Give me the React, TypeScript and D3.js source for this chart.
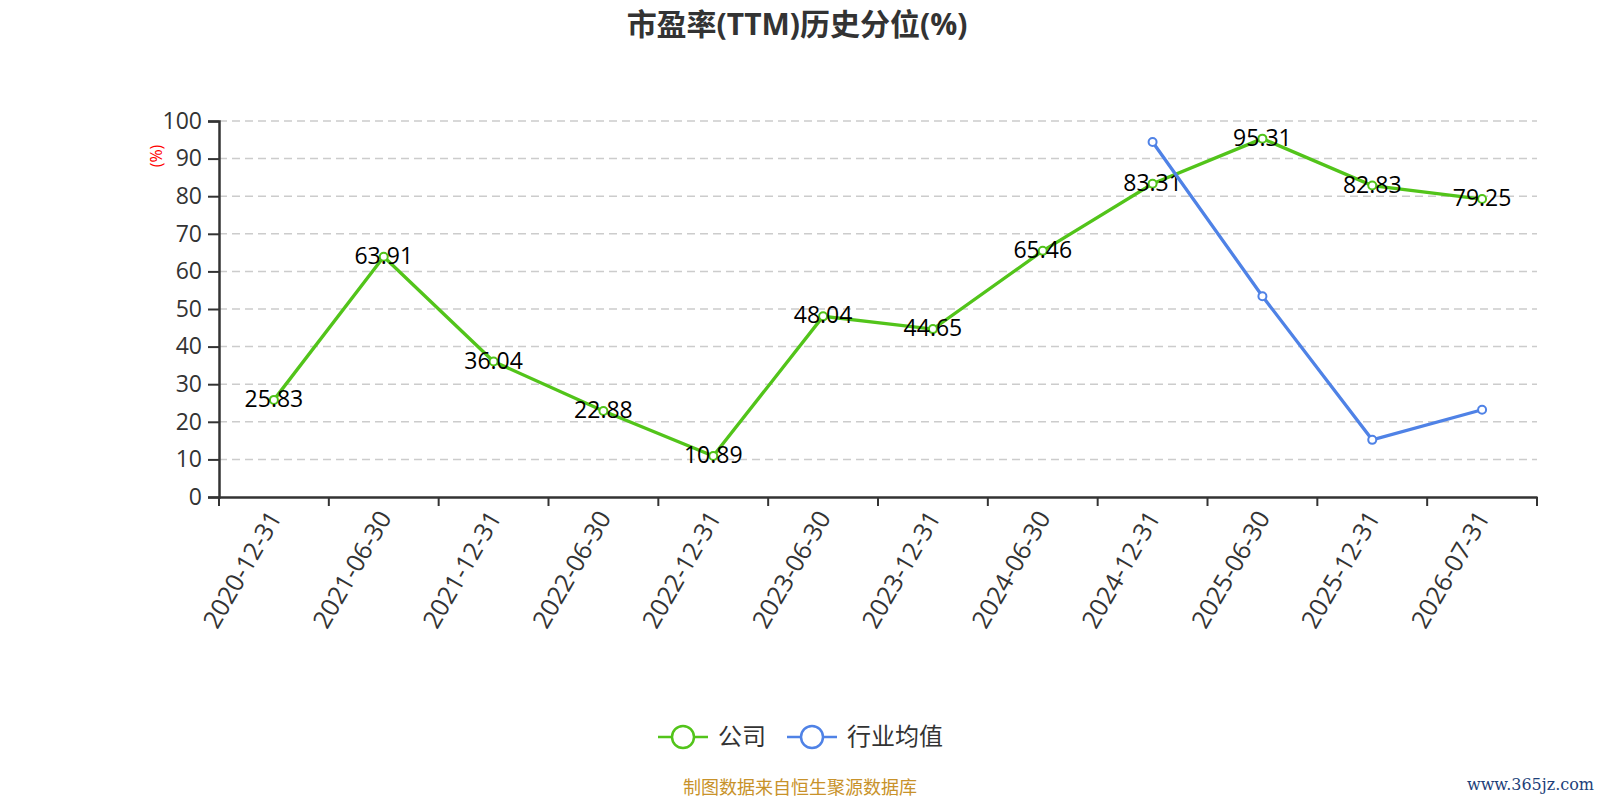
import React, { useEffect, useRef } from 'react';
import * as d3 from 'd3';

const categories = [
    '2020-12-31', '2021-06-30', '2021-12-31', '2022-06-30', '2022-12-31', '2023-06-30',
    '2023-12-31', '2024-06-30', '2024-12-31', '2025-06-30', '2025-12-31', '2026-07-31'
];
const companyValues: (number | null)[] = [25.83, 63.91, 36.04, 22.88, 10.89, 48.04, 44.65, 65.46, 83.31, 95.31, 82.83, 79.25];
const industryValues: (number | null)[] = [null, null, null, null, null, null, null, null, 94.4, 53.4, 15.2, 23.2];
const yTicks = [0, 10, 20, 30, 40, 50, 60, 70, 80, 90, 100];

const seriesNames = ['公司', '行业均值'];
const colors = ['#52c41a', '#4f82e6'];

const width = 1600;
const height = 800;
const margin = { top: 121, right: 63, bottom: 303, left: 219 };
const font = '"Open Sans", "Noto Sans CJK SC", sans-serif';

const App: React.FC = () => {
    const svgRef = useRef<SVGSVGElement>(null);

    useEffect(() => {
        if (!svgRef.current) return;
        const svg = d3.select(svgRef.current);
        svg.selectAll('*').remove();

        const x = d3.scaleBand<string>()
            .domain(categories)
            .range([margin.left, width - margin.right]);

        const y = d3.scaleLinear()
            .domain([0, 100])
            .range([height - margin.bottom, margin.top]);

        // title
        svg.append('text')
            .attr('x', 797)
            .attr('y', 35)
            .attr('text-anchor', 'middle')
            .attr('font-size', '30px')
            .attr('font-weight', 'bold')
            .attr('font-family', font)
            .attr('fill', '#333')
            .text('市盈率(TTM)历史分位(%)');

        // grid lines
        svg.append('g')
            .selectAll('line')
            .data(yTicks.filter(d => d > 0))
            .join('line')
            .attr('x1', margin.left)
            .attr('x2', width - margin.right)
            .attr('y1', d => y(d))
            .attr('y2', d => y(d))
            .attr('stroke', '#ccc')
            .attr('stroke-width', 1.5)
            .attr('stroke-dasharray', '8,5');

        // y axis
        const yAxis = svg.append('g')
            .attr('transform', `translate(${margin.left},0)`)
            .call(d3.axisLeft(y).tickValues(yTicks).tickSize(11).tickPadding(6));
        yAxis.select('.domain').attr('stroke', '#333').attr('stroke-width', 2.5);
        yAxis.selectAll('.tick line').attr('stroke', '#333').attr('stroke-width', 2);
        yAxis.selectAll('.tick text')
            .attr('fill', '#333')
            .attr('font-size', '23px')
            .attr('font-family', font);

        svg.append('text')
            .attr('transform', `translate(162,156) rotate(-90)`)
            .attr('text-anchor', 'middle')
            .attr('font-size', '16px')
            .attr('font-family', font)
            .attr('fill', 'red')
            .text('(%)');

        // x axis
        const xAxis = svg.append('g')
            .attr('transform', `translate(0,${height - margin.bottom})`)
            .call(d3.axisBottom(x).tickSize(0).tickFormat(() => ''));
        xAxis.select('.domain').attr('stroke', '#333').attr('stroke-width', 2.5);
        xAxis.selectAll('.tick').remove();

        const boundaries = [...categories.map(c => x(c) as number), width - margin.right];
        svg.append('g')
            .selectAll('line')
            .data(boundaries)
            .join('line')
            .attr('x1', d => d)
            .attr('x2', d => d)
            .attr('y1', height - margin.bottom)
            .attr('y2', height - margin.bottom + 9)
            .attr('stroke', '#333')
            .attr('stroke-width', 2);

        svg.append('g')
            .selectAll('text')
            .data(categories)
            .join('text')
            .attr('transform', d => `translate(${(x(d) as number) + x.bandwidth() / 2 + 1},${height - margin.bottom + 16}) rotate(-60)`)
            .attr('text-anchor', 'end')
            .attr('dy', '0.35em')
            .attr('font-size', '25px')
            .attr('font-family', font)
            .attr('fill', '#333')
            .text(d => d);

        const cx = (c: string) => (x(c) as number) + x.bandwidth() / 2;

        [companyValues, industryValues].forEach((values, si) => {
            const pts = categories
                .map((c, i) => ({ c, v: values[i] }))
                .filter(p => p.v !== null) as { c: string; v: number }[];

            const line = d3.line<{ c: string; v: number }>()
                .x(d => cx(d.c))
                .y(d => y(d.v));

            svg.append('path')
                .datum(pts)
                .attr('d', line)
                .attr('fill', 'none')
                .attr('stroke', colors[si])
                .attr('stroke-width', 3.3);

            svg.append('g')
                .selectAll('circle')
                .data(pts)
                .join('circle')
                .attr('cx', d => cx(d.c))
                .attr('cy', d => y(d.v))
                .attr('r', 4)
                .attr('fill', '#fff')
                .attr('stroke', colors[si])
                .attr('stroke-width', 2);

            if (si === 0) {
                svg.append('g')
                    .selectAll('text')
                    .data(pts)
                    .join('text')
                    .attr('x', d => cx(d.c))
                    .attr('y', d => y(d.v) - 1)
                    .attr('text-anchor', 'middle')
                    .attr('dy', '0.35em')
                    .attr('font-size', '23px')
                    .attr('font-family', font)
                    .attr('fill', '#000')
                    .text(d => d.v.toFixed(2));
            }
        });

        // legend
        const legendItems = [
            { x: 658, name: seriesNames[0], color: colors[0] },
            { x: 787, name: seriesNames[1], color: colors[1] }
        ];
        const legend = svg.append('g');
        legendItems.forEach(item => {
            const g = legend.append('g').attr('transform', `translate(${item.x},737)`);
            g.append('line')
                .attr('x1', 0).attr('x2', 50)
                .attr('stroke', item.color).attr('stroke-width', 2.5);
            g.append('circle')
                .attr('cx', 25).attr('r', 11)
                .attr('fill', '#fff')
                .attr('stroke', item.color).attr('stroke-width', 2.5);
            g.append('text')
                .attr('x', 60)
                .attr('dy', '0.35em')
                .attr('font-size', '24px')
                .attr('font-family', font)
                .attr('fill', '#333')
                .text(item.name);
        });

        // source note
        svg.append('text')
            .attr('x', 800)
            .attr('y', 794)
            .attr('text-anchor', 'middle')
            .attr('font-size', '18px')
            .attr('font-family', font)
            .attr('fill', '#c8922a')
            .text('制图数据来自恒生聚源数据库');

        // watermark
        svg.append('text')
            .attr('x', 1594)
            .attr('y', 790)
            .attr('text-anchor', 'end')
            .attr('font-size', '16px')
            .attr('font-family', '"DejaVu Serif", serif')
            .attr('fill', '#1d3f7a')
            .text('www.365jz.com');
    }, []);

    return (
        <svg
            ref={svgRef}
            width={width}
            height={height}
            style={{ position: 'absolute', left: 0, top: 0, background: '#fff' }}
        />
    );
};

export default App;
